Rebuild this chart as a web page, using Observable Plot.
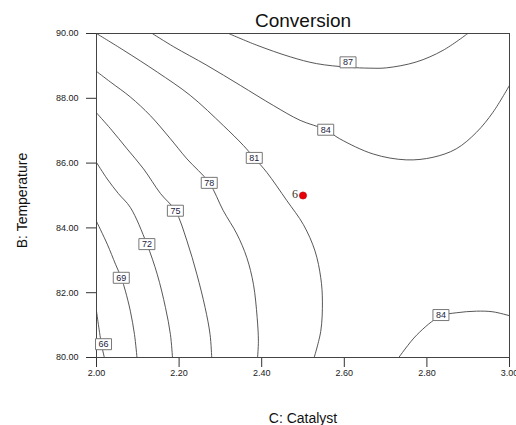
<!DOCTYPE html>
<html><head><meta charset="utf-8">
<script src="https://cdn.jsdelivr.net/npm/d3@7"></script>
<script src="https://cdn.jsdelivr.net/npm/@observablehq/plot@0.6"></script>
<style>body{margin:0;background:#fff;overflow:hidden;}</style>
</head><body><div id="chart"></div>
<script>
const title = "Conversion";
const xLabel = "C: Catalyst";
const yLabel = "B: Temperature";
const xTicks = [2.0, 2.2, 2.4, 2.6, 2.8, 3.0];
const yTicks = [80, 82, 84, 86, 88, 90];

// contour polylines: [Catalyst, Temperature]
const contour66 = [[2.000,81.43],[2.012,80.41],[2.019,80.00]];
const contour69 = [[2.000,84.20],[2.026,83.50],[2.046,82.88],[2.060,82.46],[2.070,82.05],[2.082,81.43],[2.092,80.71],[2.098,80.00]];
const contour72 = [[2.000,86.02],[2.026,85.51],[2.053,85.06],[2.082,84.63],[2.122,83.50],[2.147,82.57],[2.167,81.54],[2.179,80.71],[2.184,80.00]];
const contour75 = [[2.000,87.55],[2.034,87.06],[2.074,86.44],[2.114,85.82],[2.155,85.06],[2.191,84.53],[2.219,83.60],[2.243,82.57],[2.263,81.54],[2.275,80.71],[2.279,80.00]];
const contour78 = [[2.000,88.83],[2.034,88.50],[2.082,88.04],[2.130,87.47],[2.179,86.75],[2.219,86.13],[2.273,85.39],[2.307,84.53],[2.340,83.81],[2.364,83.08],[2.380,82.26],[2.389,81.23],[2.392,80.50],[2.390,80.00]];
const contour81 = [[2.000,90.00],[2.066,89.48],[2.147,88.81],[2.227,88.09],[2.307,87.16],[2.356,86.54],[2.382,86.16],[2.412,85.72],[2.461,84.84],[2.501,84.10],[2.529,83.29],[2.543,82.46],[2.547,81.74],[2.543,80.81],[2.527,80.00]];
const contour84a = [[2.135,90.00],[2.187,89.59],[2.267,89.02],[2.348,88.40],[2.428,87.78],[2.493,87.32],[2.555,87.03],[2.589,86.75],[2.670,86.28],[2.750,86.10],[2.815,86.18],[2.871,86.44],[2.920,86.95],[2.960,87.57],[3.000,88.40]];
const contour87 = [[2.320,90.00],[2.388,89.64],[2.469,89.28],[2.533,89.07],[2.609,88.96],[2.662,88.93],[2.702,88.94],[2.774,89.12],[2.839,89.48],[2.899,90.00]];
const contour84b = [[2.732,80.00],[2.775,80.69],[2.833,81.28],[2.871,81.38],[2.920,81.43],[2.960,81.41],[3.000,81.29]];

const contourLines = [contour66, contour69, contour72, contour75, contour78, contour81, contour84a, contour87, contour84b];

// contour label boxes
const labelText = ["66","69","72","75","78","81","84","87","84"];
const labelX = [2.017, 2.060, 2.122, 2.191, 2.273, 2.382, 2.555, 2.609, 2.834];
const labelY = [80.41, 82.46, 83.50, 84.53, 85.39, 86.16, 87.03, 89.11, 81.31];

// design point
const pointX = [2.50];
const pointY = [85.0];
const pointText = ["6"];

const labels = labelText.map((t, i) => ({t, x: labelX[i], y: labelY[i]}));
const points = pointX.map((x, i) => ({x, y: pointY[i], t: pointText[i]}));
const boxSymbol = {draw(ctx) { ctx.rect(-8, -5.5, 16, 11); }};

const chart = Plot.plot({
  width: 516,
  height: 425,
  marginTop: 33,
  marginLeft: 96,
  marginRight: 7,
  marginBottom: 68,
  style: {fontFamily: "'Liberation Sans', Arial, sans-serif", background: "#fff", overflow: "visible"},
  x: {domain: [2, 3], ticks: xTicks, tickFormat: d3.format(".2f"), label: null},
  y: {domain: [80, 90], ticks: yTicks, tickFormat: d3.format(".2f"), label: null},
  marks: [
    Plot.axisX({ticks: xTicks, tickFormat: d3.format(".2f"), tickSize: 10, tickPadding: 2, fontSize: 9, fill: "#1a1a1a", stroke: "#333", label: null}),
    Plot.axisY({ticks: yTicks, tickFormat: d3.format(".2f"), tickSize: 10, tickPadding: 8, fontSize: 9, fill: "#1a1a1a", stroke: "#333", label: null}),
    ...contourLines.map(c => Plot.line(c, {x: d => d[0], y: d => d[1], stroke: "#444", strokeWidth: 0.9, curve: "catmull-rom", clip: true})),
    Plot.frame({stroke: "#444", strokeWidth: 1}),
    Plot.dot(labels, {x: "x", y: "y", symbol: boxSymbol, fill: "#fff", stroke: "#777", strokeWidth: 1}),
    Plot.text(labels, {x: "x", y: "y", text: "t", fontSize: 9, fill: "#1c2340"}),
    Plot.dot(points, {x: "x", y: "y", r: 3.6, fill: "#e8000b", stroke: "#b00000", strokeWidth: 0.6}),
    Plot.text(points, {x: "x", y: "y", text: "t", textAnchor: "end", dx: -5, dy: -1, fontSize: 12, fontFamily: "'Liberation Serif', 'DejaVu Serif', serif", fill: "#3a3020"}),
    Plot.text([title], {frameAnchor: "top", lineAnchor: "middle", dy: -13, text: d => d, fontSize: 19, fill: "#111"}),
    Plot.text([xLabel], {frameAnchor: "bottom", lineAnchor: "middle", dy: 61, text: d => d, fontSize: 14, fill: "#111"}),
    Plot.text([yLabel], {frameAnchor: "left", textAnchor: "middle", lineAnchor: "middle", dx: -74, dy: 5, rotate: -90, text: d => d, fontSize: 14, fill: "#111"})
  ]
});
document.getElementById("chart").appendChild(chart);
</script>
</body></html>
